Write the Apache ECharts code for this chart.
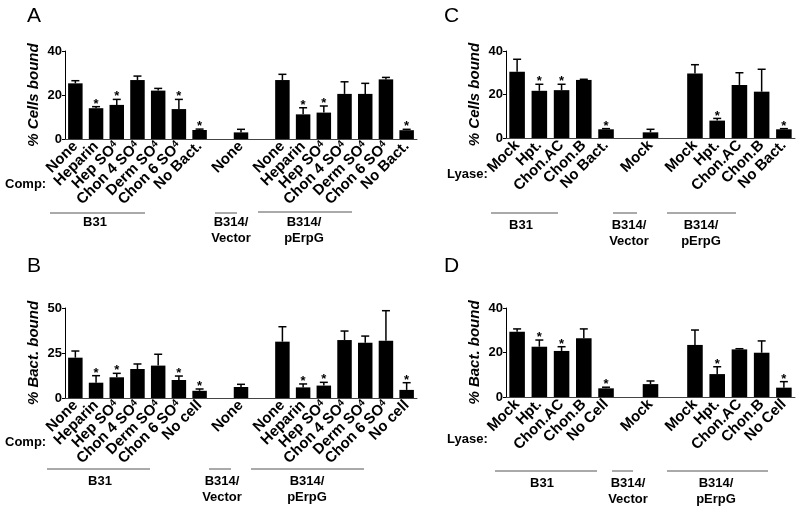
<!DOCTYPE html>
<html><head><meta charset="utf-8">
<script src="https://cdn.jsdelivr.net/npm/echarts@6/dist/echarts.min.js"></script>
<style>html,body{margin:0;padding:0;background:#fff}#c{width:800px;height:510px}</style>
</head><body><div id="c"></div>
<script>
// ---------- DATA ----------
const A_cats = ['None','Heparin','Hep SO4','Chon 4 SO4','Derm SO4','Chon 6 SO4','No Bact.','','None','','None','Heparin','Hep SO4','Chon 4 SO4','Derm SO4','Chon 6 SO4','No Bact.'];
const A_vals = [25.3,14,15.5,26.8,22,13.6,4.1,null,3.0,null,26.8,11.2,12,20.5,20.5,27.1,4.0];
const A_err  = [1.2,0.7,2.5,1.8,1.0,4.4,0.4,null,1.4,null,2.6,3.0,3.0,5.5,4.8,0.9,0.4];
const A_sig  = [0,1,1,0,0,1,1,0,0,0,0,1,1,0,0,0,1];

const B_cats = ['None','Heparin','Hep SO4','Chon 4 SO4','Derm SO4','Chon 6 SO4','No cell','','None','','None','Heparin','Hep SO4','Chon 4 SO4','Derm SO4','Chon 6 SO4','No cell'];
const B_vals = [22.4,8.5,11.5,16.1,18,10,4,null,6.1,null,31.3,5.9,6.9,32.2,30.7,31.8,4.5];
const B_err  = [3.7,3.9,2.2,2.8,6.3,2.2,1,null,1.5,null,8.3,1.9,1.8,5,3.7,16.7,4];
const B_sig  = [0,1,1,0,0,1,1,0,0,0,0,1,1,0,0,0,1];

const C_cats = ['Mock','Hpt.','Chon.AC','Chon.B','No Bact.','','Mock','','Mock','Hpt.','Chon.AC','Chon.B','No Bact.'];
const C_vals = [30.5,21.7,22,26.7,4.0,null,2.6,null,29.7,8,24.4,21.3,4];
const C_err  = [5.7,3.0,2.7,0.3,0.3,null,1.4,null,4.0,1.0,5.6,10.3,0.3];
const C_sig  = [0,1,1,0,1,0,0,0,0,1,0,0,1];

const D_cats = ['Mock','Hpt.','Chon.AC','Chon.B','No Cell','','Mock','','Mock','Hpt.','Chon.AC','Chon.B','No Cell'];
const D_vals = [29.3,22.6,20.7,26.4,3.9,null,5.8,null,23.4,10.3,21.4,19.9,4.2];
const D_err  = [1.3,3.0,1.9,4.2,0.5,null,1.4,null,6.7,3.3,0.3,5.3,2.7];
const D_sig  = [0,1,1,0,1,0,0,0,0,1,0,0,1];

const yTitles = ['% Cells bound','% Bact. bound','% Cells bound','% Bact. bound'];
const yMax = [40,50,40,40];
const yInterval = [20,25,20,20];
const panelLetters = ['A','B','C','D'];
const groupNames = ['B31','B314/\nVector','B314/\npErpG'];
const rowLabels = ['Comp:','Comp:','Lyase:','Lyase:'];

// ---------- CHART ----------
const FONT = 'Liberation Sans, Arial, sans-serif';
const panels = [
  {cats:A_cats, vals:A_vals, err:A_err, sig:A_sig, grid:{left:65, top:51, width:352, height:88}},
  {cats:B_cats, vals:B_vals, err:B_err, sig:B_sig, grid:{left:65, top:308, width:352, height:90}},
  {cats:C_cats, vals:C_vals, err:C_err, sig:C_sig, grid:{left:506, top:51, width:289, height:87}},
  {cats:D_cats, vals:D_vals, err:D_err, sig:D_sig, grid:{left:506, top:308, width:289, height:89}}
];

function fmt(v){ return v.replace(/SO4/, 'SO{sub|4}'); }

const grids = [], xAxes = [], yAxes = [], series = [];
panels.forEach((p, i) => {
  grids.push(Object.assign({containLabel:false}, p.grid));
  xAxes.push({
    type:'category', gridIndex:i, data:p.cats,
    axisLine:{lineStyle:{color:'#444', width:1}},
    axisTick:{alignWithLabel:true, length:3, lineStyle:{color:'#444'}},
    axisLabel:{interval:0, rotate:45, margin:5, color:'#000', fontSize:15, fontWeight:'bold', fontFamily:FONT,
      formatter:fmt,
      rich:{sub:{fontSize:10, fontWeight:'bold', fontFamily:FONT, color:'#000', verticalAlign:'top'}}}
  });
  yAxes.push({
    type:'value', gridIndex:i, min:0, max:yMax[i], interval:yInterval[i],
    name:yTitles[i], nameLocation:'middle', nameGap:24,
    nameTextStyle:{fontStyle:'italic', fontWeight:'bold', fontSize:15, color:'#000', fontFamily:FONT},
    axisLine:{show:true, lineStyle:{color:'#000', width:1}},
    axisTick:{show:true, length:3, lineStyle:{color:'#000'}},
    splitLine:{show:false},
    axisLabel:{color:'#000', fontSize:13, fontWeight:'bold', fontFamily:FONT, margin:3}
  });
  series.push({
    type:'bar', xAxisIndex:i, yAxisIndex:i, barWidth:'70%',
    itemStyle:{color:'#000'},
    data:p.vals.map(v => v == null ? '-' : v),
    silent:true
  });
  series.push({
    type:'custom', xAxisIndex:i, yAxisIndex:i, silent:true, z:5,
    data:p.vals.map((v, k) => [k, v == null ? 0 : v, p.err[k] == null ? 0 : p.err[k], p.sig[k], v == null ? 0 : 1]),
    renderItem:function(params, api){
      if (!api.value(4)) return null;
      const k = api.value(0), v = api.value(1), e = api.value(2), s = api.value(3);
      const p0 = api.coord([k, v]);
      const p1 = api.coord([k, v + e]);
      const children = [
        {type:'line', shape:{x1:p0[0], y1:p0[1], x2:p1[0], y2:p1[1]}, style:{stroke:'#000', lineWidth:1.5}},
        {type:'line', shape:{x1:p1[0]-4, y1:p1[1], x2:p1[0]+4, y2:p1[1]}, style:{stroke:'#000', lineWidth:1.5}}
      ];
      if (s) children.push({type:'text', style:{text:'*', x:p1[0], y:p1[1]+4, textAlign:'center', textVerticalAlign:'bottom',
        fontSize:13, fontWeight:'bold', fontFamily:FONT, fill:'#000'}});
      return {type:'group', children:children};
    }
  });
});

// annotations (panel letters, row labels, group brackets)
const graphic = [];
const letterPos = [[27,6],[27,256],[444,6],[444,256]];
panelLetters.forEach((t, i) => graphic.push({type:'text', left:letterPos[i][0], top:letterPos[i][1],
  style:{text:t, fontSize:21, fontFamily:FONT, fill:'#000'}}));
const rowPos = [[5,178],[5,436],[447,168],[447,433]];
rowLabels.forEach((t, i) => graphic.push({type:'text', left:rowPos[i][0], top:rowPos[i][1],
  style:{text:t, fontSize:13, fontWeight:'bold', fontFamily:FONT, fill:'#000'}}));
const brackets = [
  // [x1, x2, lineY, textCenterX, textTop]
  [[50,145,213,95,214],[215,237,213,231,214],[258,352,212,304,214]],
  [[47,150,469,100,473],[209,231,469,222,473],[251,364,469,307,473]],
  [[491,558,213,521,217],[613,637,213,629,217],[667,736,213,701,217]],
  [[495,597,471,542,475],[612,633,471,628,475],[667,768,471,716,475]]
];
brackets.forEach(row => row.forEach((b, g) => {
  graphic.push({type:'line', shape:{x1:b[0], y1:b[2], x2:b[1], y2:b[2]}, style:{stroke:'#555', lineWidth:1}});
  graphic.push({type:'text', x:b[3], y:b[4], style:{text:groupNames[g], textAlign:'center', fontSize:13, fontWeight:'bold',
    fontFamily:FONT, fill:'#000', lineHeight:16}});
}));

const chart = echarts.init(document.getElementById('c'), null, {renderer:'canvas'});
chart.setOption({animation:false, backgroundColor:'#fff', grid:grids, xAxis:xAxes, yAxis:yAxes, series:series, graphic:graphic});
</script>
</body></html>
